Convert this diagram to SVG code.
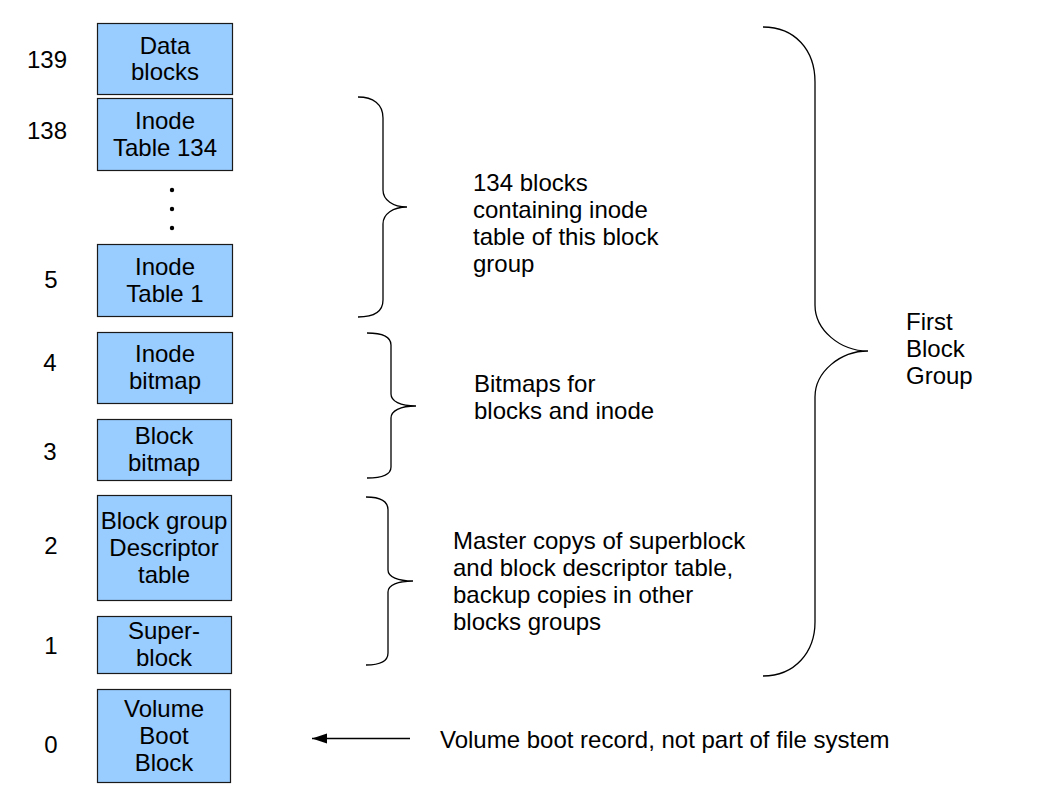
<svg xmlns="http://www.w3.org/2000/svg" width="1058" height="794" viewBox="0 0 1058 794">
<defs>
<style>
.box{fill:#99ccff;stroke:#1a1a1a;stroke-width:1.2}
.t{font-family:"Liberation Sans",Arial,sans-serif;font-size:24px;fill:#000}
.c{text-anchor:middle}
.br{fill:none;stroke:#000;stroke-width:1.3}
</style>
<marker id="ah" markerWidth="16" markerHeight="12" refX="15" refY="5" orient="auto" markerUnits="userSpaceOnUse">
<path d="M0,0 L15,5 L0,10 Z" fill="#000"/>
</marker>
</defs>
<rect width="1058" height="794" fill="#fff"/>

<g id="n139"><rect class="box" x="97.5" y="23.5" width="135" height="71"/>
<text class="t c" x="165" y="54">Data</text><text class="t c" x="165" y="80">blocks</text>
<text class="t c" x="47" y="68">139</text></g>

<g id="n138"><rect class="box" x="97.5" y="98.5" width="135" height="72"/>
<text class="t c" x="165" y="129">Inode</text><text class="t c" x="165" y="156">Table 134</text>
<text class="t c" x="47" y="139">138</text></g>

<g id="dots"><circle cx="172" cy="190" r="2.2" fill="#000"/><circle cx="172" cy="209" r="2.2" fill="#000"/><circle cx="172" cy="228" r="2.2" fill="#000"/></g>

<g id="n5"><rect class="box" x="97.5" y="244.5" width="135" height="72"/>
<text class="t c" x="165" y="275">Inode</text><text class="t c" x="165" y="302">Table 1</text>
<text class="t c" x="51" y="288">5</text></g>

<g id="n4"><rect class="box" x="97.5" y="332.5" width="135" height="71"/>
<text class="t c" x="165" y="362">Inode</text><text class="t c" x="165" y="389">bitmap</text>
<text class="t c" x="50" y="371">4</text></g>

<g id="n3"><rect class="box" x="97.5" y="419.5" width="134" height="61"/>
<text class="t c" x="164" y="444">Block</text><text class="t c" x="164" y="471">bitmap</text>
<text class="t c" x="50" y="460">3</text></g>

<g id="n2"><rect class="box" x="97.5" y="495.5" width="134" height="105"/>
<text class="t c" x="164" y="529">Block group</text><text class="t c" x="164" y="556">Descriptor</text><text class="t c" x="164" y="583">table</text>
<text class="t c" x="51" y="554">2</text></g>

<g id="n1"><rect class="box" x="97.5" y="616.5" width="134" height="57"/>
<text class="t c" x="164" y="639">Super-</text><text class="t c" x="164" y="666">block</text>
<text class="t c" x="51" y="654">1</text></g>

<g id="n0"><rect class="box" x="97.5" y="689.5" width="133" height="93"/>
<text class="t c" x="164" y="717">Volume</text><text class="t c" x="164" y="744">Boot</text><text class="t c" x="164" y="771">Block</text>
<text class="t c" x="51" y="753">0</text></g>

<g id="connectors">
<path class="br" d="M358,97 C373,97 383,104 383,118 L383,190 C383,200 393,207 407,207 C393,207 383,214 383,224 L383,300 C383,312 373,317 358,317"/>
<path class="br" d="M367,333 C382,333 391,336 391,345 L391,394 C391,401 400,406 416,406 C400,406 391,411 391,418 L391,467 C391,475 382,478 367,478"/>
<path class="br" d="M366,497 C380,497 388,501 388,510 L388,570 C388,577 398,581 413,581 C398,581 388,585 388,592 L388,653 C388,661 380,665 366,665"/>
<path class="br" d="M763,27 C795,27 815,50 815,82 L815,305 C815,330 840,351 868,351 C840,351 815,372 815,397 L815,622 C815,652 795,676 763,676"/>
<line x1="410" y1="738.5" x2="312" y2="738.5" stroke="#000" stroke-width="1.3" marker-end="url(#ah)"/>
</g>

<g id="labels">
<text class="t" x="473" y="191">134 blocks</text>
<text class="t" x="473" y="218">containing inode</text>
<text class="t" x="473" y="245">table of this block</text>
<text class="t" x="473" y="272">group</text>
<text class="t" x="474" y="392">Bitmaps for</text>
<text class="t" x="474" y="419">blocks and inode</text>
<text class="t" x="453" y="549">Master copys of superblock</text>
<text class="t" x="453" y="576">and block descriptor table,</text>
<text class="t" x="453" y="603">backup copies in other</text>
<text class="t" x="453" y="630">blocks groups</text>
<text class="t" x="906" y="330">First</text>
<text class="t" x="906" y="357">Block</text>
<text class="t" x="906" y="384">Group</text>
<text class="t" x="440" y="748">Volume boot record, not part of file system</text>
</g>
</svg>
